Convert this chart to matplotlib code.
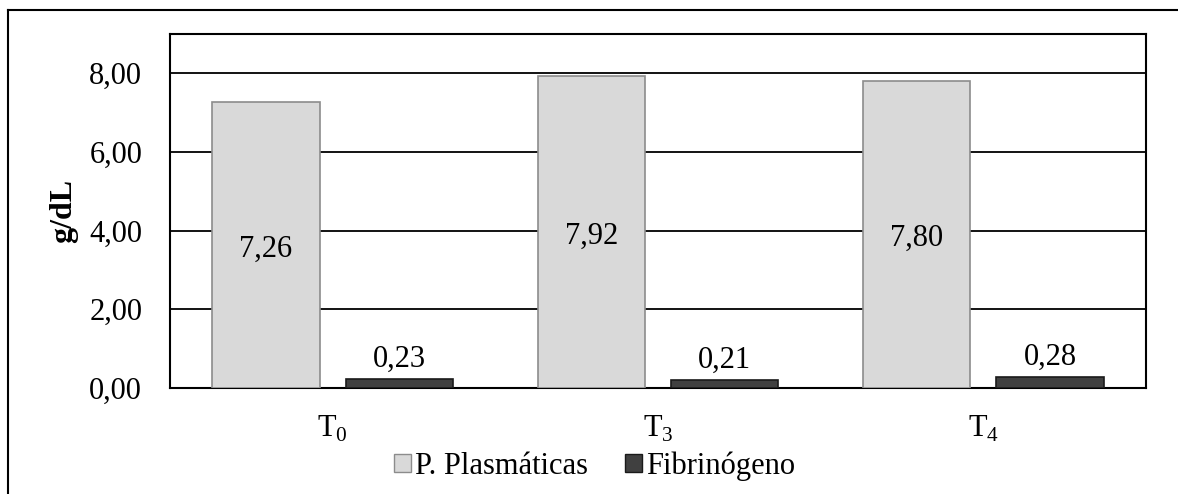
import matplotlib
matplotlib.use("Agg")
import matplotlib.pyplot as plt
from matplotlib.lines import Line2D
from matplotlib.patches import Patch
import numpy as np

plt.rcParams['font.family'] = ['Liberation Serif', 'DejaVu Serif']
plt.rcParams['mathtext.fontset'] = 'custom'
plt.rcParams['mathtext.rm'] = 'Liberation Serif'

# dados
momentos = ['T$_\\mathrm{0}$', 'T$_\\mathrm{3}$', 'T$_\\mathrm{4}$']
proteinas = [7.26, 7.92, 7.80]
fibrinogeno = [0.23, 0.21, 0.28]
series = ['P. Plasmáticas', 'Fibrinógeno']

cor_clara = '#d9d9d9'
cor_escura = '#404040'

fig = plt.figure(figsize=(11.78, 4.94), dpi=100)
ax = fig.add_axes([0.1443, 0.2146, 0.8285, 0.7166])

x = np.arange(len(momentos))
larg = 0.33
desl = 0.205

b1 = ax.bar(x - desl, proteinas, larg, color=cor_clara, edgecolor='#8c8c8c', linewidth=1.2, zorder=3)
b2 = ax.bar(x + desl, fibrinogeno, larg, color=cor_escura, edgecolor='#1a1a1a', linewidth=1.2, zorder=3)

def fmt(v):
    return ('%.2f' % v).replace('.', ',')

for rect, v in zip(b1, proteinas):
    ax.text(rect.get_x() + rect.get_width() / 2, v / 2 - 0.1, fmt(v), ha='center', va='center', fontsize=22, zorder=4)
for rect, v in zip(b2, fibrinogeno):
    ax.text(rect.get_x() + rect.get_width() / 2, v + 0.12, fmt(v), ha='center', va='bottom', fontsize=22, zorder=4)

ax.set_xlim(-0.5, 2.5)
ax.set_ylim(0, 9)
ax.set_yticks([0, 2, 4, 6, 8])
ax.set_yticklabels([fmt(v) for v in [0, 2, 4, 6, 8]])
ax.set_xticks(x)
ax.set_xticklabels(momentos)
ax.tick_params(axis='both', length=0, labelsize=22)
ax.tick_params(axis='x', pad=19)
ax.tick_params(axis='y', pad=20)
ax.grid(axis='y', color='black', linewidth=1.3, zorder=0)
ax.set_axisbelow(True)
for s in ax.spines.values():
    s.set_color('black')
    s.set_linewidth(1.5)

ax.set_ylabel('g/dL', fontsize=23, fontweight='bold', labelpad=8)

handles = [Patch(facecolor=cor_clara, edgecolor='#8c8c8c'),
           Patch(facecolor=cor_escura, edgecolor='#1a1a1a')]
fig.legend(handles, series, loc='center', bbox_to_anchor=(0.505, 0.057), ncol=2, frameon=False,
           fontsize=22, handlelength=0.55, handleheight=0.55, handletextpad=0.15, columnspacing=1.2)

# moldura externa
fig.add_artist(Line2D([0.0068, 0.0068], [0, 0.98], transform=fig.transFigure, color='black', linewidth=1.5))
fig.add_artist(Line2D([0.0068, 1.0], [0.98, 0.98], transform=fig.transFigure, color='black', linewidth=1.5))

fig.savefig('out.png', dpi=100)
